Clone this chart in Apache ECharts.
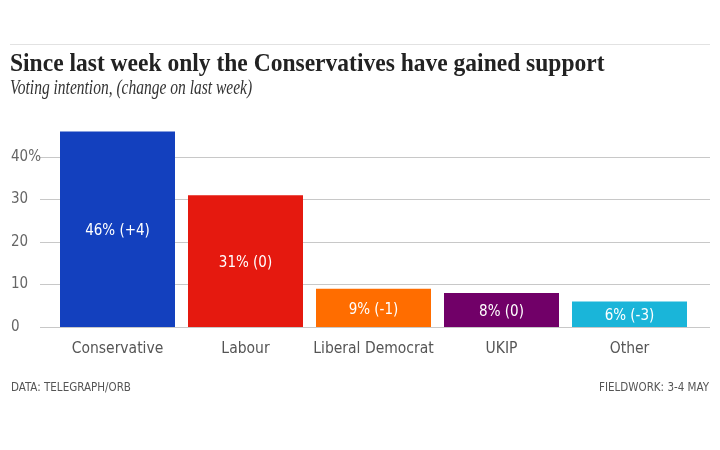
<!DOCTYPE html>
<html><head><meta charset="utf-8">
<script src="https://cdn.jsdelivr.net/npm/echarts@6/dist/echarts.min.js"></script>
<style>html,body{margin:0;padding:0;background:#fff}#c{width:720px;height:450px}</style>
</head><body><div id="c"></div>
<script>
const categories = ['Conservative', 'Labour', 'Liberal Democrat', 'UKIP', 'Other'];
const shares = [46, 31, 9, 8, 6];
const changes = ['+4', '0', '-1', '0', '-3'];
const colors = ['#1340be', '#e5190f', '#ff6d00', '#710068', '#1ab5d9'];
const yTicks = [0, 10, 20, 30, 40];

const chart = echarts.init(document.getElementById('c'), null, {renderer: 'canvas'});
const cond = '"DejaVu Sans Condensed", "Liberation Sans Narrow", sans-serif';
chart.setOption({
  animation: false,
  graphic: [
    {type: 'line', shape: {x1: 10, y1: 44.5, x2: 710, y2: 44.5}, style: {stroke: '#e2e2e2', lineWidth: 1}},
    {type: 'text', x: 10, y: 52, scaleX: 0.96, style: {text: 'Since last week only the Conservatives have gained support', font: 'bold 24.5px "Liberation Serif", serif', fill: '#222'}},
    {type: 'text', x: 10, y: 77, scaleX: 0.705, style: {text: 'Voting intention, (change on last week)', font: 'italic 22px "Liberation Serif", serif', fill: '#333'}},
    {type: 'text', left: 11, top: 382, style: {text: 'DATA: TELEGRAPH/ORB', font: '11.5px ' + cond, fill: '#555'}},
    {type: 'text', right: 11, top: 382, style: {text: 'FIELDWORK: 3-4 MAY', font: '11.5px ' + cond, fill: '#555'}}
  ],
  grid: [
    {left: 40, right: 10, top: 157, bottom: 123},
    {left: 53.5, right: 26.5, top: 114.5, bottom: 123}
  ],
  xAxis: [
    {gridIndex: 0, type: 'value', show: false, min: 0, max: 1},
    {gridIndex: 1, type: 'category', data: categories,
     axisLine: {show: false}, axisTick: {show: false},
     axisLabel: {color: '#555', fontSize: 15.5, fontFamily: cond, margin: 14, interval: 0}}
  ],
  yAxis: [
    {gridIndex: 0, type: 'value', min: 0, max: 40, interval: 10,
     axisLine: {show: false}, axisTick: {show: false},
     splitLine: {lineStyle: {color: '#c8c8c8', width: 1}},
     axisLabel: {color: '#666', fontSize: 15, fontFamily: cond, align: 'left', margin: 29,
       formatter: v => yTicks.includes(v) ? (v === 40 ? v + '%' : String(v)) : ''}},
    {gridIndex: 1, type: 'value', min: 0, max: 50, interval: 10, show: false}
  ],
  series: [{
    type: 'bar', xAxisIndex: 1, yAxisIndex: 1,
    barWidth: 115,
    data: shares.map((v, i) => ({value: v, itemStyle: {color: colors[i]}})),
    label: {show: true, position: 'inside', color: '#fff', fontSize: 15, fontFamily: cond, offset: [0, 2],
      formatter: p => p.value + '% (' + changes[p.dataIndex] + ')'}
  }]
});
</script></body></html>
